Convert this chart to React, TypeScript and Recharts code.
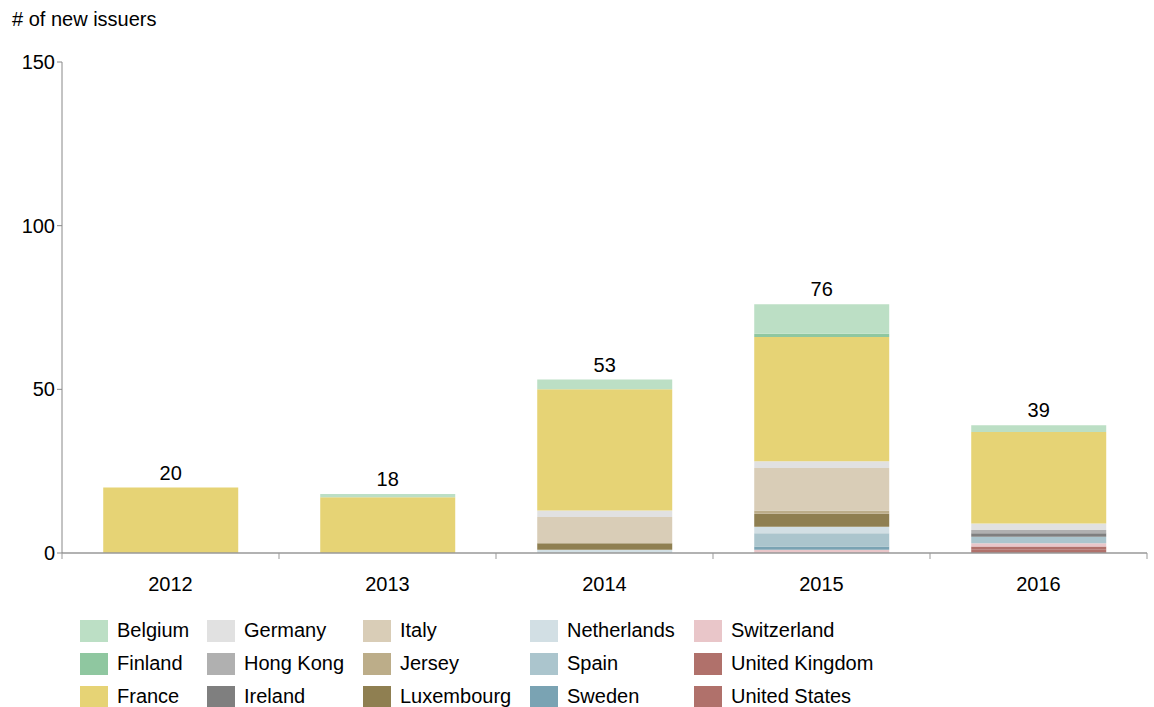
import { BarChart, Bar, XAxis, YAxis, LabelList } from 'recharts';

const years = ['2012', '2013', '2014', '2015', '2016'];
const totals = [20, 18, 53, 76, 39];

const belgium = [0, 1, 3, 9, 2];
const finland = [0, 0, 0, 1, 0];
const france = [20, 17, 37, 38, 28];
const germany = [0, 0, 2, 2, 2];
const hongKong = [0, 0, 0, 0, 1];
const ireland = [0, 0, 0, 0, 1];
const italy = [0, 0, 8, 13, 0];
const jersey = [0, 0, 0, 1, 0];
const luxembourg = [0, 0, 2, 4, 0];
const netherlands = [0, 0, 1, 2, 0];
const spain = [0, 0, 0, 4, 2];
const sweden = [0, 0, 0, 1, 0];
const switzerland = [0, 0, 0, 1, 1];
const unitedKingdom = [0, 0, 0, 0, 1];
const unitedStates = [0, 0, 0, 0, 1];

const yTicks = [0, 50, 100, 150];

// stacking order bottom -> top
const series = [
    { key: 'United States', values: unitedStates, color: '#b0716b' },
    { key: 'United Kingdom', values: unitedKingdom, color: '#b0716b' },
    { key: 'Switzerland', values: switzerland, color: '#e9c6c9' },
    { key: 'Sweden', values: sweden, color: '#7aa3b3' },
    { key: 'Spain', values: spain, color: '#abc5cd' },
    { key: 'Netherlands', values: netherlands, color: '#d2dfe4' },
    { key: 'Luxembourg', values: luxembourg, color: '#8f7f51' },
    { key: 'Jersey', values: jersey, color: '#bcad89' },
    { key: 'Italy', values: italy, color: '#d9cdb7' },
    { key: 'Ireland', values: ireland, color: '#7f7f7f' },
    { key: 'Hong Kong', values: hongKong, color: '#b0b0b0' },
    { key: 'Germany', values: germany, color: '#e1e1e1' },
    { key: 'France', values: france, color: '#e6d375' },
    { key: 'Finland', values: finland, color: '#8fc7a0' },
    { key: 'Belgium', values: belgium, color: '#bcdfc5' },
];

const legendColumns = [
    ['Belgium', 'Finland', 'France'],
    ['Germany', 'Hong Kong', 'Ireland'],
    ['Italy', 'Jersey', 'Luxembourg'],
    ['Netherlands', 'Spain', 'Sweden'],
    ['Switzerland', 'United Kingdom', 'United States'],
];
const legendX = [80, 207, 363, 530, 694];

const data = years.map((year, i) => {
    const row: any = { year, total: totals[i] };
    series.forEach((s) => { row[s.key] = s.values[i]; });
    return row;
});

// key of the highest non-empty segment in each bar, where the total goes
const topKey = years.map((_, i) => {
    let k = '';
    series.forEach((s) => { if (s.values[i] > 0) k = s.key; });
    return k;
});

const FONT = '"Liberation Sans", Arial, sans-serif';
const PLOT_LEFT = 62;
const PLOT_RIGHT = 1147;
const BAND = (PLOT_RIGHT - PLOT_LEFT) / years.length;

const XTick = ({ x, y, payload, index }: any) => (
    <g>
        <line x1={x - BAND / 2} x2={x - BAND / 2} y1={y - 8} y2={y - 2} stroke="#999" />
        {index === years.length - 1 && (
            <line x1={x + BAND / 2} x2={x + BAND / 2} y1={y - 8} y2={y - 2} stroke="#999" />
        )}
        <text x={x} y={y + 30} textAnchor="middle" fontSize={20} fill="#000" fontFamily={FONT}>
            {payload.value}
        </text>
    </g>
);

// label list is keyed on "year" so the value tells which bar this is
const makeTotalLabel = (key: string) => (props: any) => {
    const { x, y, width, value } = props;
    const i = years.indexOf(String(value));
    if (i < 0 || topKey[i] !== key) return null;
    return (
        <text x={x + width / 2} y={y - 8} textAnchor="middle" fontSize={20} fill="#000" fontFamily={FONT}>
            {totals[i]}
        </text>
    );
};

export default function App() {
    const colorOf = (name: string) => series.find((s) => s.key === name)?.color;
    return (
        <div style={{ position: 'absolute', left: 0, top: 0, width: 1154, height: 707, background: '#fff', fontFamily: FONT }}>
            <div style={{ position: 'absolute', left: 12, top: 8, fontSize: 20, color: '#000' }}># of new issuers</div>
            <BarChart
                width={1154}
                height={600}
                data={data}
                margin={{ top: 62, right: 1154 - PLOT_RIGHT, left: 12, bottom: 0 }}
                barCategoryGap="19%"
            >
                <XAxis
                    dataKey="year"
                    axisLine={{ stroke: '#999', strokeWidth: 1.5 }}
                    tickLine={false}
                    tick={<XTick />}
                    height={47}
                    interval={0}
                />
                <YAxis
                    domain={[0, 150]}
                    ticks={yTicks}
                    width={50}
                    axisLine={{ stroke: '#888' }}
                    tickLine={{ stroke: '#888' }}
                    tickSize={5}
                    tick={{ fontSize: 20, fill: '#000', fontFamily: FONT }}
                />
                {series.map((s) => (
                    <Bar key={s.key} dataKey={s.key} stackId="a" fill={s.color} isAnimationActive={false}>
                        {topKey.includes(s.key) && (
                            <LabelList dataKey="year" content={makeTotalLabel(s.key)} />
                        )}
                    </Bar>
                ))}
            </BarChart>
            {legendColumns.map((col, ci) =>
                col.map((name, ri) => (
                    <div
                        key={name}
                        style={{
                            position: 'absolute',
                            left: legendX[ci],
                            top: 619 + ri * 33,
                            display: 'flex',
                            alignItems: 'center',
                            fontSize: 20,
                            color: '#000',
                            whiteSpace: 'nowrap',
                        }}
                    >
                        <div style={{ width: 28, height: 22, background: colorOf(name), marginRight: 9 }} />
                        <span>{name}</span>
                    </div>
                ))
            )}
        </div>
    );
}
